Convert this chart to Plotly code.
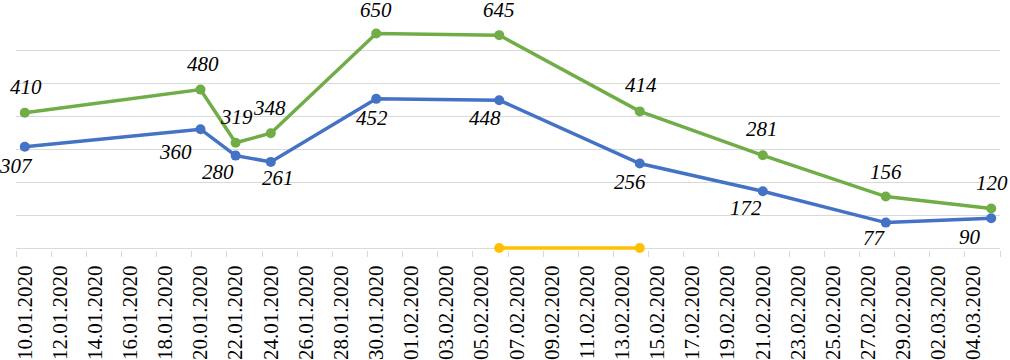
import plotly.graph_objects as go

# ---- data ----
dates = ["2020-01-10", "2020-01-20", "2020-01-22", "2020-01-24", "2020-01-30",
         "2020-02-06", "2020-02-14", "2020-02-21", "2020-02-28", "2020-03-05"]
green_values = [410, 480, 319, 348, 650, 645, 414, 281, 156, 120]
blue_values = [307, 360, 280, 261, 452, 448, 256, 172, 77, 90]
yellow_dates = ["2020-02-06", "2020-02-14"]
yellow_values = [0, 0]

# ---- label style offsets (pixels) ----
green_dx = [1, 2, 1, -1, 0, 0, 1, -1, 0, 1]
green_dy = [26, 26, 26, 25, 24, 25, 26, 26, 25, 25]
blue_dx = [-9, -25, -18, 7, -4, -14, -10, -17, -11, -21]
blue_dy = [-19, -23, -16, -16, -19, -18, -18, -17, -15, -19]

GREEN = "#70AD47"
BLUE = "#4472C4"
YELLOW = "#FFC000"
GRID = "#D9D9D9"
FONT = "Liberation Serif, Times New Roman, serif"

fig = go.Figure()
fig.add_trace(go.Scatter(x=dates, y=blue_values, mode="lines+markers",
                         line=dict(color=BLUE, width=3.5),
                         marker=dict(color=BLUE, size=10), cliponaxis=False,
                         name="series 1"))
fig.add_trace(go.Scatter(x=dates, y=green_values, mode="lines+markers",
                         line=dict(color=GREEN, width=3.5),
                         marker=dict(color=GREEN, size=10), cliponaxis=False,
                         name="series 2"))
fig.add_trace(go.Scatter(x=yellow_dates, y=yellow_values, mode="lines+markers",
                         line=dict(color=YELLOW, width=3.5),
                         marker=dict(color=YELLOW, size=10), cliponaxis=False,
                         name="series 3"))

annotations = []
for d, v, dx, dy in zip(dates, green_values, green_dx, green_dy):
    annotations.append(dict(x=d, y=v, text=f"<i>{v}</i>", showarrow=False,
                            xshift=dx, yshift=dy,
                            font=dict(family=FONT, size=21, color="black")))
for d, v, dx, dy in zip(dates, blue_values, blue_dx, blue_dy):
    annotations.append(dict(x=d, y=v, text=f"<i>{v}</i>", showarrow=False,
                            xshift=dx, yshift=dy,
                            font=dict(family=FONT, size=21, color="black")))

fig.update_layout(
    width=1010, height=360,
    margin=dict(l=16, r=10, t=17, b=110),
    paper_bgcolor="white", plot_bgcolor="white",
    showlegend=False,
    annotations=annotations,
    xaxis=dict(
        type="date", automargin=False, layer="below traces",
        range=["2020-01-09 12:00", "2020-03-05 12:00"],
        tick0="2020-01-10", dtick=2 * 86400000,
        tickformat="%d.%m.%Y", tickangle=-90,
        tickfont=dict(family=FONT, size=21, color="black"),
        ticks="outside", ticklen=6, tickcolor="rgba(0,0,0,0)",
        showgrid=False, showline=False,
        minor=dict(ticks="outside", ticklen=6, tickcolor=GRID, tickwidth=1.3,
                   tick0="2020-01-09 12:00", dtick=2 * 86400000, showgrid=False),
    ),
    yaxis=dict(
        automargin=False, layer="below traces",
        range=[-6, 700], tick0=0, dtick=100, showticklabels=False,
        showgrid=True, gridcolor=GRID, gridwidth=1.3,
        zeroline=True, zerolinecolor=GRID, zerolinewidth=1.3,
        ticks="",
    ),
)

fig.write_html("out.html",
               config={"displayModeBar": False},
               post_script="document.body.style.margin='0px';document.body.style.overflow='hidden';")
